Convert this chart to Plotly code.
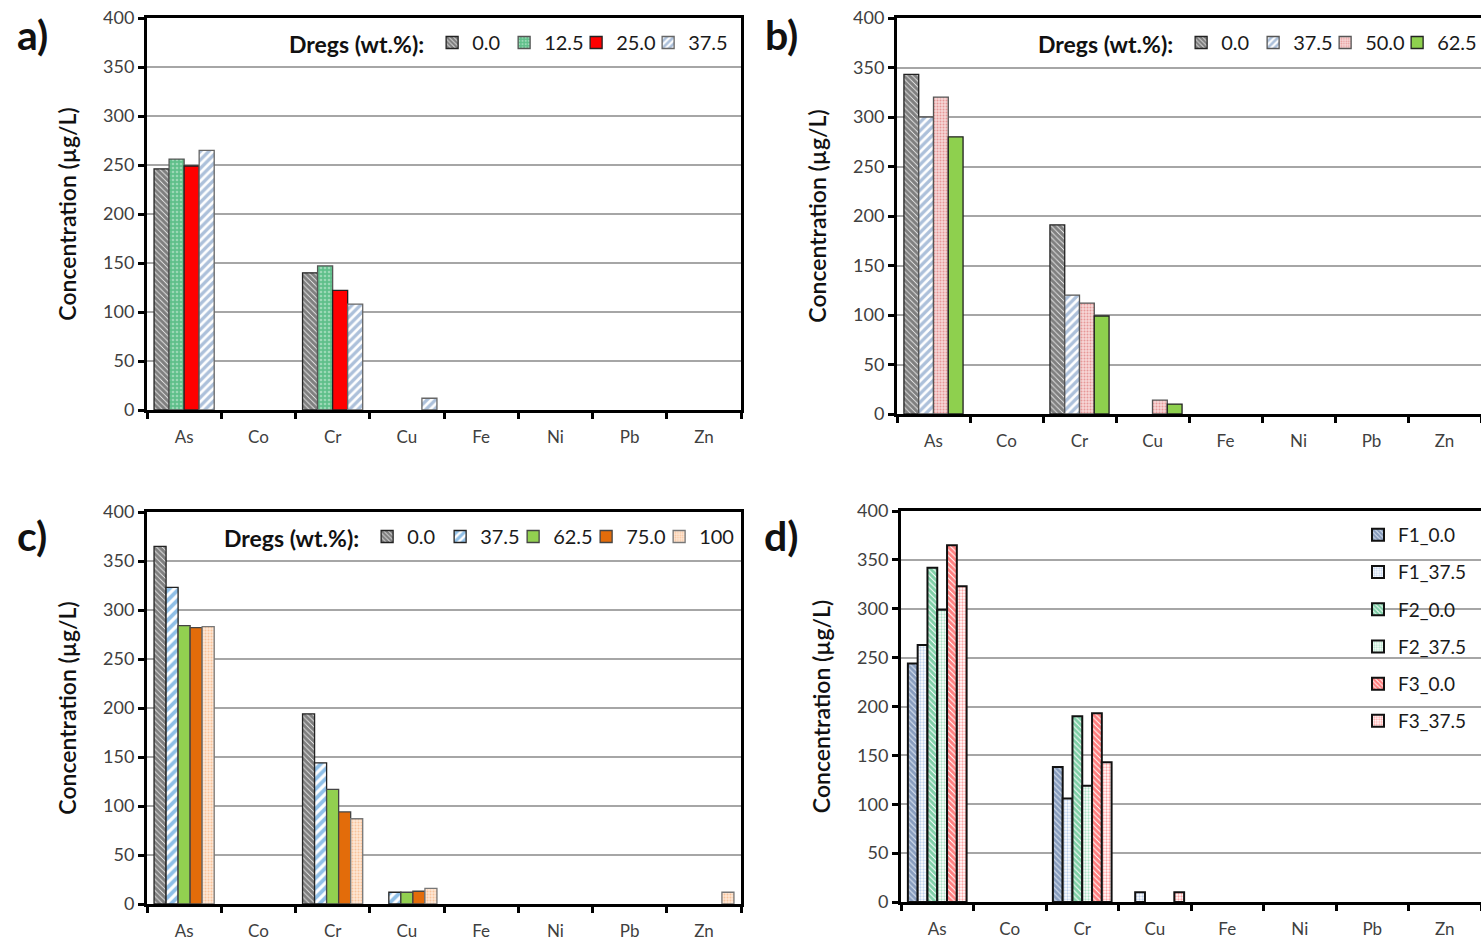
import plotly.graph_objects as go

elements = ["As", "Co", "Cr", "Cu", "Fe", "Ni", "Pb", "Zn"]
y_ticks = [0, 50, 100, 150, 200, 250, 300, 350, 400]

# Panel a
a_names = ["0.0", "12.5", "25.0", "37.5"]
a_00 = [246, None, 140, None, None, None, None, None]
a_125 = [256, None, 147, None, None, None, None, None]
a_250 = [249, None, 122, None, None, None, None, None]
a_375 = [265, None, 108, 12, None, None, None, None]

# Panel b
b_names = ["0.0", "37.5", "50.0", "62.5"]
b_00 = [343, None, 191, None, None, None, None, None]
b_375 = [300, None, 120, None, None, None, None, None]
b_500 = [320, None, 112, 14, None, None, None, None]
b_625 = [280, None, 99, 10, None, None, None, None]

# Panel c
c_names = ["0.0", "37.5", "62.5", "75.0", "100"]
c_00 = [365, None, 194, None, None, None, None, None]
c_375 = [323, None, 144, 12, None, None, None, None]
c_625 = [284, None, 117, 12, None, None, None, None]
c_750 = [282, None, 94, 13, None, None, None, None]
c_100 = [283, None, 87, 16, None, None, None, 12]

# Panel d
d_names = ["F1_0.0", "F1_37.5", "F2_0.0", "F2_37.5", "F3_0.0", "F3_37.5"]
d_f1_00 = [244, None, 138, None, None, None, None, None]
d_f1_375 = [263, None, 106, 10, None, None, None, None]
d_f2_00 = [342, None, 190, None, None, None, None, None]
d_f2_375 = [299, None, 119, None, None, None, None, None]
d_f3_00 = [365, None, 193, None, None, None, None, None]
d_f3_375 = [323, None, 143, 10, None, None, None, None]

FONT = "Lato, 'Open Sans', sans-serif"
W, H = 1481, 942

STY = {
    "black": dict(shape="\\", fgcolor="#000000", bgcolor="#ffffff", size=4, solidity=0.8),
    "green_dot": dict(shape=".", fgcolor="#d8f2e2", bgcolor="#5fbf8a", size=4, solidity=0.35),
    "blue_stripe": dict(shape="/", fgcolor="#5a82b6", bgcolor="#ffffff", size=6, solidity=0.55),
    "pink_dot": dict(shape=".", fgcolor="#d85a5a", bgcolor="#f6d6d6", size=3, solidity=0.35),
    "bright_blue": dict(shape="/", fgcolor="#1f7fd0", bgcolor="#ffffff", size=7, solidity=0.55),
    "peach_dot": dict(shape=".", fgcolor="#f5a060", bgcolor="#fde6d4", size=3, solidity=0.35),
    "f1": dict(shape="\\", fgcolor="#2f4f85", bgcolor="#dfe8f4", size=4, solidity=0.75),
    "f1d": dict(shape=".", fgcolor="#7fa4d8", bgcolor="#ffffff", size=3, solidity=0.45),
    "f2": dict(shape="\\", fgcolor="#00a050", bgcolor="#ffffff", size=4, solidity=0.75),
    "f2d": dict(shape=".", fgcolor="#60c890", bgcolor="#ffffff", size=3, solidity=0.45),
    "f3": dict(shape="\\", fgcolor="#ff0000", bgcolor="#ffffff", size=4, solidity=0.75),
    "f3d": dict(shape=".", fgcolor="#ff4a4a", bgcolor="#ffffff", size=3, solidity=0.45),
}

fig = go.Figure()


def add_bar(vals, name, ax, leg, color, style, lw=1.3, lc="#222222", group=None):
    marker = dict(color=color, line=dict(color=lc, width=lw))
    if style is not None:
        marker["pattern"] = STY[style]
    fig.add_trace(go.Bar(
        x=elements, y=vals, name=name, marker=marker,
        xaxis="x" + ax, yaxis="y" + ax, legend=leg,
        legendgroup=group if group else leg + name,
        offsetgroup=name, hoverinfo="x+y+name",
    ))


def add_spacer(ax, leg):
    # empty, invisible legend entry so the last legend label is not clipped
    fig.add_trace(go.Scatter(
        x=[None], y=[None], mode="markers", name=" ",
        marker=dict(color="rgba(0,0,0,0)", size=1),
        xaxis="x" + ax, yaxis="y" + ax, legend=leg,
        legendgroup=leg + "spacer", hoverinfo="skip",
    ))


add_bar(a_00, a_names[0], "", "legend", "#ffffff", "black")
add_bar(a_125, a_names[1], "", "legend", "#5fbf8a", "green_dot", lc="#555555")
add_bar(a_250, a_names[2], "", "legend", "#ff0000", None)
add_bar(a_375, a_names[3], "", "legend", "#ffffff", "blue_stripe", lc="#666666")
add_spacer("", "legend")

add_bar(b_00, b_names[0], "2", "legend2", "#ffffff", "black")
add_bar(b_375, b_names[1], "2", "legend2", "#ffffff", "blue_stripe", lc="#555555")
add_bar(b_500, b_names[2], "2", "legend2", "#f6d6d6", "pink_dot", lc="#555555")
add_bar(b_625, b_names[3], "2", "legend2", "#8ed04e", None)
add_spacer("2", "legend2")

add_bar(c_00, c_names[0], "3", "legend3", "#ffffff", "black")
add_bar(c_375, c_names[1], "3", "legend3", "#ffffff", "bright_blue")
add_bar(c_625, c_names[2], "3", "legend3", "#92d050", None, lc="#444444")
add_bar(c_750, c_names[3], "3", "legend3", "#e36c0a", None, lc="#444444")
add_bar(c_100, c_names[4], "3", "legend3", "#fde6d4", "peach_dot", lc="#777777")
add_spacer("3", "legend3")

d_vals = [d_f1_00, d_f1_375, d_f2_00, d_f2_375, d_f3_00, d_f3_375]
d_sty = ["f1", "f1d", "f2", "f2d", "f3", "f3d"]
for v, n, s in zip(d_vals, d_names, d_sty):
    add_bar(v, n, "4", "legend4", "#ffffff", s, lw=2, lc="#111111", group="d" + n)


def px_x(p):
    return p / W


def px_y(p):
    return 1 - p / H


panels = {
    "": ([147, 741], [410, 18]),
    "2": ([897, 1481], [414, 18]),
    "3": ([147, 741], [904, 512]),
    "4": ([901, 1481], [902, 511]),
}

layout = dict(
    width=W, height=H,
    margin=dict(l=0, r=0, t=0, b=0, autoexpand=False),
    paper_bgcolor="white", plot_bgcolor="white",
    font=dict(family=FONT, color="#404040"),
    barmode="group", bargap=0.19, bargroupgap=0.0,
)

for key, (xs, ys) in panels.items():
    xk = "xaxis" + key
    yk = "yaxis" + key
    layout[xk] = dict(
        domain=[px_x(xs[0]), min(1.0, px_x(xs[1]))],
        anchor="y" + key,
        type="category", categoryorder="array", categoryarray=elements,
        tickson="boundaries", ticks="outside", ticklen=6, tickwidth=3,
        tickcolor="black", showline=True, linewidth=3, linecolor="black",
        mirror=True, showgrid=False, zeroline=False,
        tickfont=dict(size=17, color="#404040", family=FONT),
        ticklabelstandoff=10,
    )
    layout[yk] = dict(
        domain=[px_y(ys[0]), px_y(ys[1])],
        anchor="x" + key,
        range=[0, 400], tickvals=y_ticks,
        ticks="outside", ticklen=6, tickwidth=3, tickcolor="black",
        showline=True, linewidth=3, linecolor="black", mirror=True,
        showgrid=True, gridcolor="#a6a6a6", gridwidth=1.5, zeroline=False,
        tickfont=dict(size=18, color="#404040", family=FONT),
        title=dict(text="Concentration (µg/L)",
                   font=dict(size=23, color="#111111", family=FONT, weight=600),
                   standoff=21),
    )

leg_common = dict(
    orientation="h", bgcolor="rgba(0,0,0,0)", borderwidth=0,
    font=dict(size=20, color="#1a1a1a", family=FONT),
    title=dict(text="<b>Dregs (wt.%):</b>", side="left",
               font=dict(size=23, color="#111111", family=FONT)),
    yanchor="middle", xanchor="left", itemwidth=30,
    entrywidthmode="pixels",
)
layout["legend"] = dict(leg_common, x=px_x(287), y=px_y(43), entrywidth=27)
layout["legend2"] = dict(leg_common, x=px_x(1036), y=px_y(43), entrywidth=27)
layout["legend3"] = dict(leg_common, x=px_x(222), y=px_y(537), entrywidth=28)
layout["legend4"] = dict(
    orientation="v", bgcolor="rgba(0,0,0,0)", borderwidth=0,
    font=dict(size=19, color="#1a1a1a", family=FONT),
    x=px_x(1358), y=px_y(516), xanchor="left", yanchor="top",
    tracegroupgap=9.5,
)

labels = [("a)", 32, 35), ("b)", 781, 35), ("c)", 32, 535), ("d)", 781, 535)]
layout["annotations"] = [
    dict(text="<b>%s</b>" % t, x=px_x(xp), y=px_y(yp), xref="paper", yref="paper",
         showarrow=False, xanchor="center", yanchor="middle",
         font=dict(size=41, color="#111111", family=FONT))
    for t, xp, yp in labels
]

fig.update_layout(**layout)
fig.write_html("out.html")
